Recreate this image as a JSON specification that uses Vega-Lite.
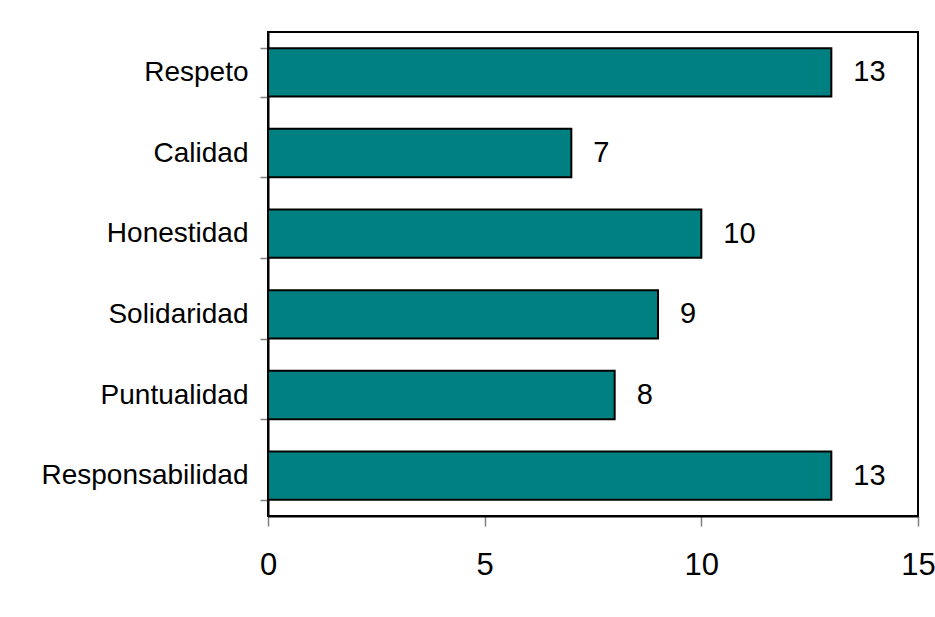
{
  "$schema": "https://vega.github.io/schema/vega-lite/v6.json",
  "autosize": {"type": "none"},
  "padding": {"left": 268, "top": 32, "right": 17, "bottom": 101},
  "width": 650,
  "height": 484,
  "background": "white",
  "config": {
    "font": "Liberation Sans",
    "view": {"stroke": "black", "strokeWidth": 2}
  },
  "data": {
    "values": [
      {"valor": "Respeto", "frecuencia": 13},
      {"valor": "Calidad", "frecuencia": 7},
      {"valor": "Honestidad", "frecuencia": 10},
      {"valor": "Solidaridad", "frecuencia": 9},
      {"valor": "Puntualidad", "frecuencia": 8},
      {"valor": "Responsabilidad", "frecuencia": 13}
    ]
  },
  "encoding": {
    "y": {
      "field": "valor",
      "type": "nominal",
      "sort": null,
      "scale": {"paddingInner": 0.4, "paddingOuter": 0.2},
      "axis": {
        "title": null,
        "tickBand": "extent",
        "labelFontSize": 28,
        "labelLimit": 400,
        "labelColor": "black",
        "labelPadding": 12,
        "tickSize": 8,
        "tickColor": "#808080",
        "tickWidth": 1.5,
        "domainColor": "black",
        "domainWidth": 2
      }
    },
    "x": {
      "field": "frecuencia",
      "type": "quantitative",
      "scale": {"domain": [0, 15], "nice": false},
      "axis": {
        "title": null,
        "values": [0, 5, 10, 15],
        "labelFlush": false,
        "labelFontSize": 31,
        "labelColor": "black",
        "labelPadding": 24,
        "tickSize": 10,
        "tickColor": "#808080",
        "tickWidth": 1.5,
        "domainColor": "black",
        "domainWidth": 2,
        "grid": false
      }
    }
  },
  "layer": [
    {
      "mark": {"type": "bar", "color": "#008080", "stroke": "black", "strokeWidth": 2}
    },
    {
      "mark": {"type": "text", "align": "left", "baseline": "middle", "dx": 22, "fontSize": 29, "color": "black"},
      "encoding": {"text": {"field": "frecuencia", "type": "quantitative"}}
    }
  ]
}
